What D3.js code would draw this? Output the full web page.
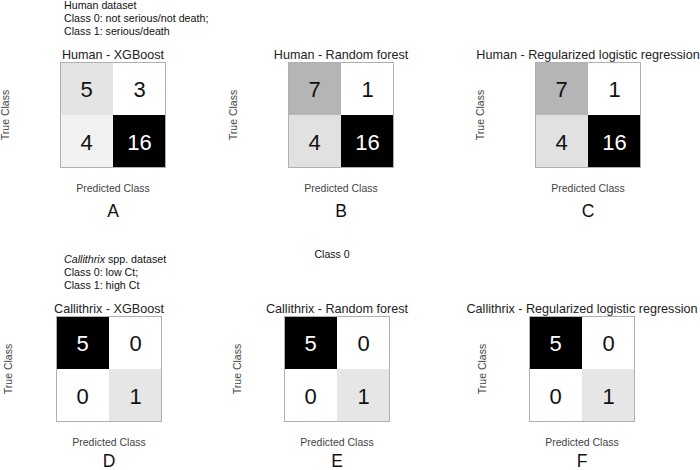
<!DOCTYPE html>
<html>
<head>
<meta charset="utf-8">
<script src="https://cdn.jsdelivr.net/npm/d3@7"></script>
<style>
  body { margin: 0; background: #fff; }
  svg text { font-family: "Liberation Sans", Arial, sans-serif; }
</style>
</head>
<body>
<div id="chart"></div>
<script>
// confusion matrices, rows = true class, cols = predicted class
var classes = ["0", "1"];
var panelTitles = [
    "Human - XGBoost",
    "Human - Random forest",
    "Human - Regularized logistic regression",
    "Callithrix - XGBoost",
    "Callithrix - Random forest",
    "Callithrix - Regularized logistic regression"
];
var panelLetters = ["A", "B", "C", "D", "E", "F"];
var matrices = [
    [[5, 3], [4, 16]],
    [[7, 1], [4, 16]],
    [[7, 1], [4, 16]],
    [[5, 0], [0, 1]],
    [[5, 0], [0, 1]],
    [[5, 0], [0, 1]]
];
var humanNote = ["Human dataset", "Class 0: not serious/not death;", "Class 1: serious/death"];
var callNote = ["spp. dataset", "Class 0: low Ct;", "Class 1: high Ct"];

function init() {
    var width = 700, height = 470, size = 106;

    // box top-left corner of each panel, tc = offset of "True Class", lt = letter baseline
    var layout = [
        {x: 60, y: 62, tc: 55, lt: 49}, {x: 288, y: 62, tc: 55, lt: 49}, {x: 535, y: 62, tc: 55, lt: 49},
        {x: 56, y: 316, tc: 48, lt: 45}, {x: 284, y: 316, tc: 47, lt: 45}, {x: 529, y: 316, tc: 47, lt: 45}
    ];

    var svg = d3.select("#chart")
        .append("svg")
        .attr("width", width)
        .attr("height", height);

    // dataset notes
    svg.selectAll("noteA")
        .data(humanNote)
        .enter()
        .append("text")
        .attr("x", 64)
        .attr("y", function (d, i) { return 9 + i * 13 })
        .attr("font-size", 10.7)
        .attr("fill", "#111")
        .text(function (d) { return d });

    var n2 = svg.selectAll("noteB")
        .data(callNote)
        .enter()
        .append("text")
        .attr("x", 64)
        .attr("y", function (d, i) { return 263 + i * 13 })
        .attr("font-size", 10.7)
        .attr("fill", "#111");
    n2.filter(function (d, i) { return i == 0 })
        .append("tspan")
        .attr("font-style", "italic")
        .text("Callithrix ");
    n2.append("tspan").text(function (d) { return d });

    svg.append("text")
        .attr("x", 332)
        .attr("y", 258)
        .attr("text-anchor", "middle")
        .attr("font-size", 10.5)
        .attr("fill", "#111")
        .text("Class 0");

    var x = d3.scaleBand().domain(classes).range([0, size]);
    var y = d3.scaleBand().domain(classes).range([0, size]);

    matrices.forEach(function (m, p) {
        var L = layout[p];
        var cells = [];
        m.forEach(function (row, i) {
            row.forEach(function (v, j) {
                cells.push({t: classes[i], pr: classes[j], v: v});
            });
        });
        var ext = d3.extent(cells, function (d) { return d.v });
        var color = d3.scalePow().exponent(1.45).domain(ext).range(["#ffffff", "#000000"]);

        var g = svg.append("g")
            .attr("transform", "translate(" + L.x + "," + L.y + ")");

        g.selectAll("rect.cell")
            .data(cells)
            .enter()
            .append("rect")
            .attr("class", "cell")
            .attr("x", function (d) { return x(d.pr) })
            .attr("y", function (d) { return y(d.t) })
            .attr("width", x.bandwidth())
            .attr("height", y.bandwidth())
            .attr("fill", function (d) { return color(d.v) });

        g.append("rect")
            .attr("x", 0.5).attr("y", 0.5)
            .attr("width", size - 1).attr("height", size - 1)
            .attr("fill", "none")
            .attr("stroke", "#b0b0b0")
            .attr("stroke-width", 1);

        g.selectAll("text.num")
            .data(cells)
            .enter()
            .append("text")
            .attr("class", "num")
            .attr("x", function (d) { return x(d.pr) + x.bandwidth() / 2 })
            .attr("y", function (d) { return y(d.t) + y.bandwidth() / 2 + 8 })
            .attr("text-anchor", "middle")
            .attr("font-size", 22)
            .attr("fill", function (d) { return (d.v - ext[0]) / (ext[1] - ext[0]) > 0.6 ? "#fff" : "#111" })
            .text(function (d) { return d.v });

        g.append("text")
            .attr("x", size / 2)
            .attr("y", -3)
            .attr("text-anchor", "middle")
            .attr("font-size", 12.6)
            .attr("fill", "#222")
            .text(panelTitles[p]);

        g.append("text")
            .attr("transform", "translate(" + (-L.tc + 4) + "," + (size / 2) + ") rotate(-90)")
            .attr("text-anchor", "middle")
            .attr("font-size", 10.5)
            .attr("fill", "#444")
            .text("True Class");

        g.append("text")
            .attr("x", size / 2)
            .attr("y", size + 24)
            .attr("text-anchor", "middle")
            .attr("font-size", 10.5)
            .attr("fill", "#444")
            .text("Predicted Class");

        g.append("text")
            .attr("x", size / 2)
            .attr("y", size + L.lt)
            .attr("text-anchor", "middle")
            .attr("font-size", 17.5)
            .attr("fill", "#111")
            .text(panelLetters[p]);
    });
}
init();
</script>
</body>
</html>
